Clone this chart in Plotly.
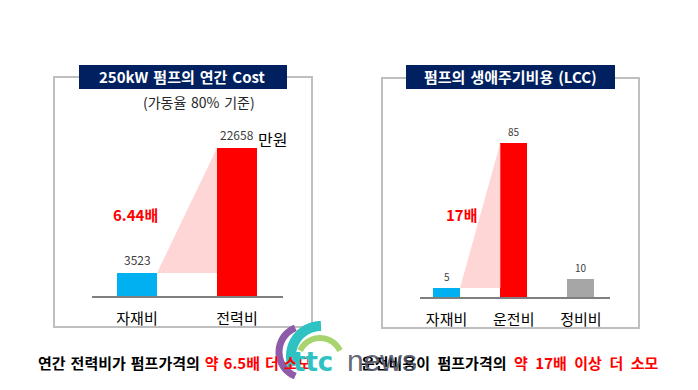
import numpy as np
import plotly.graph_objects as go

W, H = 698, 390
FONT = "Noto Sans CJK KR"

# ---- data ----
left_categories = ["자재비", "전력비"]
left_values = [3523, 22658]
left_colors = ["#00B0F0", "#FF0000"]
left_title = "250kW 펌프의 연간 Cost"
left_subtitle = "(가동율 80% 기준)"
left_unit = "만원"
left_ratio_label = "6.44배"

right_categories = ["자재비", "운전비", "정비비"]
right_values = [5, 85, 10]
right_colors = ["#00B0F0", "#FF0000", "#A6A6A6"]
right_title = "펌프의 생애주기비용 (LCC)"
right_ratio_label = "17배"

left_caption = ["연간 전력비가 펌프가격의 ", "약 6.5배 더 소모"]
right_caption = ["운전비용이 펌프가격의 ", "약 17배 이상 더 소모"]


def wide(s, sp="\u2004"):
    return s.replace(" ", sp)


def px(x):
    return x / W


def py(y):
    return 1 - y / H


BAR_W = 0.4
fig = go.Figure()

# Left chart
fig.add_trace(go.Scatter(
    x=[0 + BAR_W / 2, 1 - BAR_W / 2, 1 - BAR_W / 2, 0 + BAR_W / 2],
    y=[left_values[0], left_values[1], left_values[0], left_values[0]],
    fill="toself", fillcolor="#FFD6D6", line=dict(width=0), mode="lines",
    hoverinfo="skip", xaxis="x", yaxis="y", showlegend=False))
fig.add_trace(go.Bar(x=list(range(len(left_values))), y=left_values, width=BAR_W,
                     marker=dict(color=left_colors, line=dict(width=0)),
                     xaxis="x", yaxis="y", showlegend=False))

# Right chart
fig.add_trace(go.Scatter(
    x=[0 + BAR_W / 2, 1 - BAR_W / 2, 1 - BAR_W / 2, 0 + BAR_W / 2],
    y=[right_values[0], right_values[1], right_values[0], right_values[0]],
    fill="toself", fillcolor="#FFD6D6", line=dict(width=0), mode="lines",
    hoverinfo="skip", xaxis="x2", yaxis="y2", showlegend=False))
fig.add_trace(go.Bar(x=list(range(len(right_values))), y=right_values, width=BAR_W,
                     marker=dict(color=right_colors, line=dict(width=0)),
                     xaxis="x2", yaxis="y2", showlegend=False))

axis_common = dict(showgrid=False, zeroline=False, fixedrange=True)

# left axis pixel geometry
lx0, lx1, lb, ltop = 92, 283, 296, 120
l_scale = (296 - 148) / left_values[1]
fig.update_layout(
    xaxis=dict(domain=[px(lx0), px(lx1)], range=[-(137 - lx0) / 100, 1 + (lx1 - 237) / 100],
               tickmode="array", tickvals=list(range(len(left_categories))), ticktext=left_categories,
               showline=True, linecolor="#7F7F7F", linewidth=2, ticks="",
               tickfont=dict(family=FONT, size=15, color="#000000"), ticklabelstandoff=8,
               anchor="y", **axis_common),
    yaxis=dict(domain=[py(lb), py(ltop)], range=[0, (lb - ltop) / l_scale], visible=False,
               anchor="x", **axis_common),
)
rx0, rx1, rb, rtop = 420, 610, 297, 120
r_scale = (297 - 143) / right_values[1]
fig.update_layout(
    xaxis2=dict(domain=[px(rx0), px(rx1)], range=[-(446.5 - rx0) / 67, 2 + (rx1 - 581) / 67],
                tickmode="array", tickvals=list(range(len(right_categories))), ticktext=right_categories,
                showline=True, linecolor="#7F7F7F", linewidth=2, ticks="",
                tickfont=dict(family=FONT, size=15, color="#000000"), ticklabelstandoff=8,
                anchor="y2", **axis_common),
    yaxis2=dict(domain=[py(rb), py(rtop)], range=[0, (rb - rtop) / r_scale], visible=False,
                anchor="x2", **axis_common),
)

shapes = []
annotations = []

# panel borders
for (x0, y0, x1, y1) in [(54, 77, 312, 327), (382, 78, 639, 328)]:
    shapes.append(dict(type="rect", xref="paper", yref="paper", x0=px(x0), x1=px(x1), y0=py(y1), y1=py(y0),
                       line=dict(color="#BFBFBF", width=2), fillcolor="rgba(0,0,0,0)", layer="below"))
# title boxes
for (x0, x1, txt) in [(79, 287, left_title), (406, 615, right_title)]:
    shapes.append(dict(type="rect", xref="paper", yref="paper", x0=px(x0), x1=px(x1), y0=py(89), y1=py(65),
                       line=dict(width=0), fillcolor="#002060", layer="above"))
    annotations.append(dict(xref="paper", yref="paper", x=px((x0 + x1) / 2), y=py(77),
                            text="<b>" + wide(txt) + "</b>",
                            showarrow=False, xanchor="center", yanchor="middle",
                            font=dict(family=FONT, size=15, color="white")))

annotations.append(dict(xref="paper", yref="paper", x=px(199), y=py(102), text=wide(left_subtitle), showarrow=False,
                        xanchor="center", yanchor="middle", font=dict(family=FONT, size=14, color="#262626")))

# value labels
for i, v in enumerate(left_values):
    annotations.append(dict(xref="x", yref="y", x=i, y=v, text=str(v), showarrow=False, yanchor="bottom",
                            yshift=3, font=dict(family=FONT, size=12, color="#404040")))
annotations.append(dict(xref="paper", yref="paper", x=px(256), y=py(139), text=left_unit, showarrow=False,
                        xanchor="left", yanchor="middle", font=dict(family=FONT, size=16, color="#000000")))
for i, v in enumerate(right_values):
    annotations.append(dict(xref="x2", yref="y2", x=i, y=v, text=str(v), showarrow=False, yanchor="bottom",
                            yshift=2, font=dict(family=FONT, size=10, color="#404040")))

annotations.append(dict(xref="paper", yref="paper", x=px(135), y=py(214), text="<b>" + left_ratio_label + "</b>",
                        showarrow=False, xanchor="center", yanchor="middle",
                        font=dict(family=FONT, size=15, color="#FF0000")))
annotations.append(dict(xref="paper", yref="paper", x=px(462), y=py(214), text="<b>" + right_ratio_label + "</b>",
                        showarrow=False, xanchor="center", yanchor="middle",
                        font=dict(family=FONT, size=15, color="#FF0000")))

# captions
for (x0, parts, sp) in [(36, left_caption, "\u2004"), (359, right_caption, "\u2002")]:
    annotations.append(dict(xref="paper", yref="paper", x=px(x0), y=py(362),
                            text="<b>" + wide(parts[0], sp) + "<span style='color:#FF0000'>"
                                 + wide(parts[1], sp) + "</span></b>",
                            showarrow=False, xanchor="left", yanchor="middle",
                            font=dict(family=FONT, size=15, color="#000000")))


# watermark logo (approximate)
def arc_path(cx, cy, r, a0, a1, n=30):
    t = np.radians(np.linspace(a0, a1, n))
    xs = cx + r * np.cos(t)
    ys = cy - r * np.sin(t)
    return "M " + " L ".join(f"{px(a):.5f},{py(b):.5f}" for a, b in zip(xs, ys))


shapes.append(dict(type="path", xref="paper", yref="paper", path=arc_path(305, 352, 26, 112, 248),
                   line=dict(color="#8E5BA8", width=7), layer="above"))
shapes.append(dict(type="path", xref="paper", yref="paper", path=arc_path(321, 356, 30, 90, 200),
                   line=dict(color="#2EC2C2", width=10), layer="above"))
shapes.append(dict(type="path", xref="paper", yref="paper", path=arc_path(320, 360, 22, 25, 155),
                   line=dict(color="#A8D46F", width=6), layer="above"))
annotations.append(dict(xref="paper", yref="paper", x=px(291), y=py(362), text="<b>ttc</b>", showarrow=False,
                        xanchor="left", yanchor="middle",
                        font=dict(family="DejaVu Sans", size=26, color="#2EC2C2")))
annotations.append(dict(xref="paper", yref="paper", x=px(345), y=py(360), text="news", showarrow=False,
                        xanchor="left", yanchor="middle",
                        font=dict(family="Liberation Sans", size=30, color="rgba(80,84,104,0.9)")))

fig.update_layout(shapes=shapes, annotations=annotations, width=W, height=H,
                  margin=dict(l=0, r=0, t=0, b=0), paper_bgcolor="white", plot_bgcolor="rgba(0,0,0,0)",
                  bargap=0, showlegend=False)

fig.write_html("out.html", config={"displayModeBar": False},
               post_script="document.body.style.margin='0';document.body.style.overflow='hidden';")
